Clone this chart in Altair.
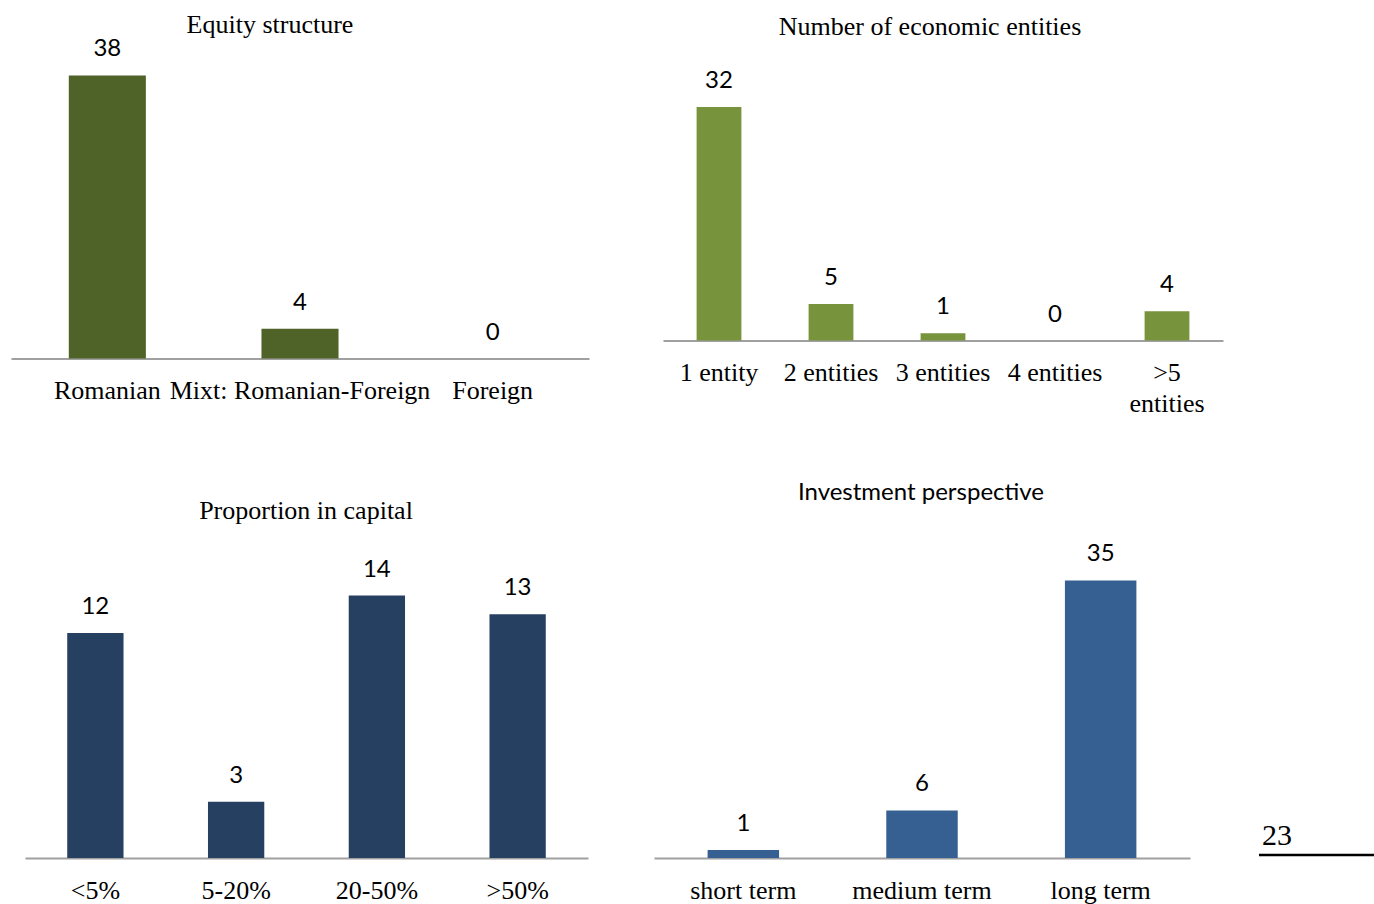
import altair as alt
import pandas as pd

SERIF = "Liberation Serif"
SANS = "Lato"

CHART_W, CHART_H = 1374, 904

# --- data -----------------------------------------------------------------
equity_cats = ["Romanian", "Mixt: Romanian-Foreign", "Foreign"]
equity_vals = [38, 4, 0]

entity_cats = ["1 entity", "2 entities", "3 entities", "4 entities", ">5 entities"]
entity_vals = [32, 5, 1, 0, 4]

capital_cats = ["<5%", "5-20%", "20-50%", ">50%"]
capital_vals = [12, 3, 14, 13]

horizon_cats = ["short term", "medium term", "long term"]
horizon_vals = [1, 6, 35]

titles = ["Equity structure", "Number of economic entities",
          "Proportion in capital", "Investment perspective"]
page_number = ["23"]


def panel(cats, vals, color, x_range, baseline, px_per_unit, y_max, label_expr=None):
    """One bar panel placed on the shared canvas through its own scale ranges."""
    df = pd.DataFrame({"category": cats, "value": vals})
    axis_kw = dict(
        orient="bottom", title=None, ticks=False, tickSize=0,
        domainColor="#a0a0a0", domainWidth=2,
        labelFont=SERIF, labelFontSize=26, labelColor="black",
        labelPadding=40, labelBaseline="alphabetic", labelLimit=400,
        labelAngle=0, labelLineHeight=31, labelOverlap=False,
        offset=baseline - CHART_H,
    )
    if label_expr:
        axis_kw["labelExpr"] = label_expr
    x = alt.X("category:N", sort=cats,
              scale=alt.Scale(range=x_range, paddingInner=0.6, paddingOuter=0.3),
              axis=alt.Axis(**axis_kw))
    y = alt.Y("value:Q",
              scale=alt.Scale(domain=[0, y_max],
                              range=[baseline, baseline - y_max * px_per_unit],
                              nice=False, zero=True),
              axis=None)
    base = alt.Chart(df).encode(x=x, y=y)
    bars = base.mark_bar(color=color)
    labels = base.mark_text(font=SANS, fontSize=24, baseline="alphabetic",
                            dy=-19, color="black").encode(text="value:Q")
    return alt.layer(bars, labels)


def caption(text, x, y, font, size):
    return (alt.Chart(pd.DataFrame({"caption": [text]}))
            .mark_text(font=font, fontSize=size, baseline="alphabetic",
                       align="center", color="black")
            .encode(text="caption:N", x=alt.value(x), y=alt.value(y)))


equity = panel(equity_cats, equity_vals, "#4f6228", [11, 589], 358.5, 7.45, 40)
entities = panel(entity_cats, entity_vals, "#77933c", [663, 1223], 340.5, 7.3, 40,
                 label_expr="datum.label == '>5 entities' ? ['>5', 'entities'] : datum.label")
capital = panel(capital_cats, capital_vals, "#254061", [25, 588], 858, 18.75, 16)
horizon = panel(horizon_cats, horizon_vals, "#366092", [654, 1190], 858, 7.93, 40)

title_layers = [
    caption(titles[0], 270, 33, SERIF, 26),
    caption(titles[1], 930, 35, SERIF, 26),
    caption(titles[2], 306, 519, SERIF, 26),
    caption(titles[3], 921, 500, SANS, 24),
]

footer_num = caption(page_number[0], 1277, 845, SERIF, 30)
footer_rule = (alt.Chart(pd.DataFrame({"rule": [0]}))
               .mark_rule(color="black", strokeWidth=2.5)
               .encode(x=alt.value(1259), x2=alt.value(1374), y=alt.value(855)))

chart = (
    alt.layer(equity, entities, capital, horizon, *title_layers, footer_num, footer_rule)
    .resolve_scale(x="independent", y="independent")
    .properties(width=CHART_W, height=CHART_H,
                autosize=alt.AutoSizeParams(type="none"), padding=0,
                background="white")
    .configure_view(stroke=None)
)

chart.save("out.html", embed_options={"renderer": "svg", "actions": False})
